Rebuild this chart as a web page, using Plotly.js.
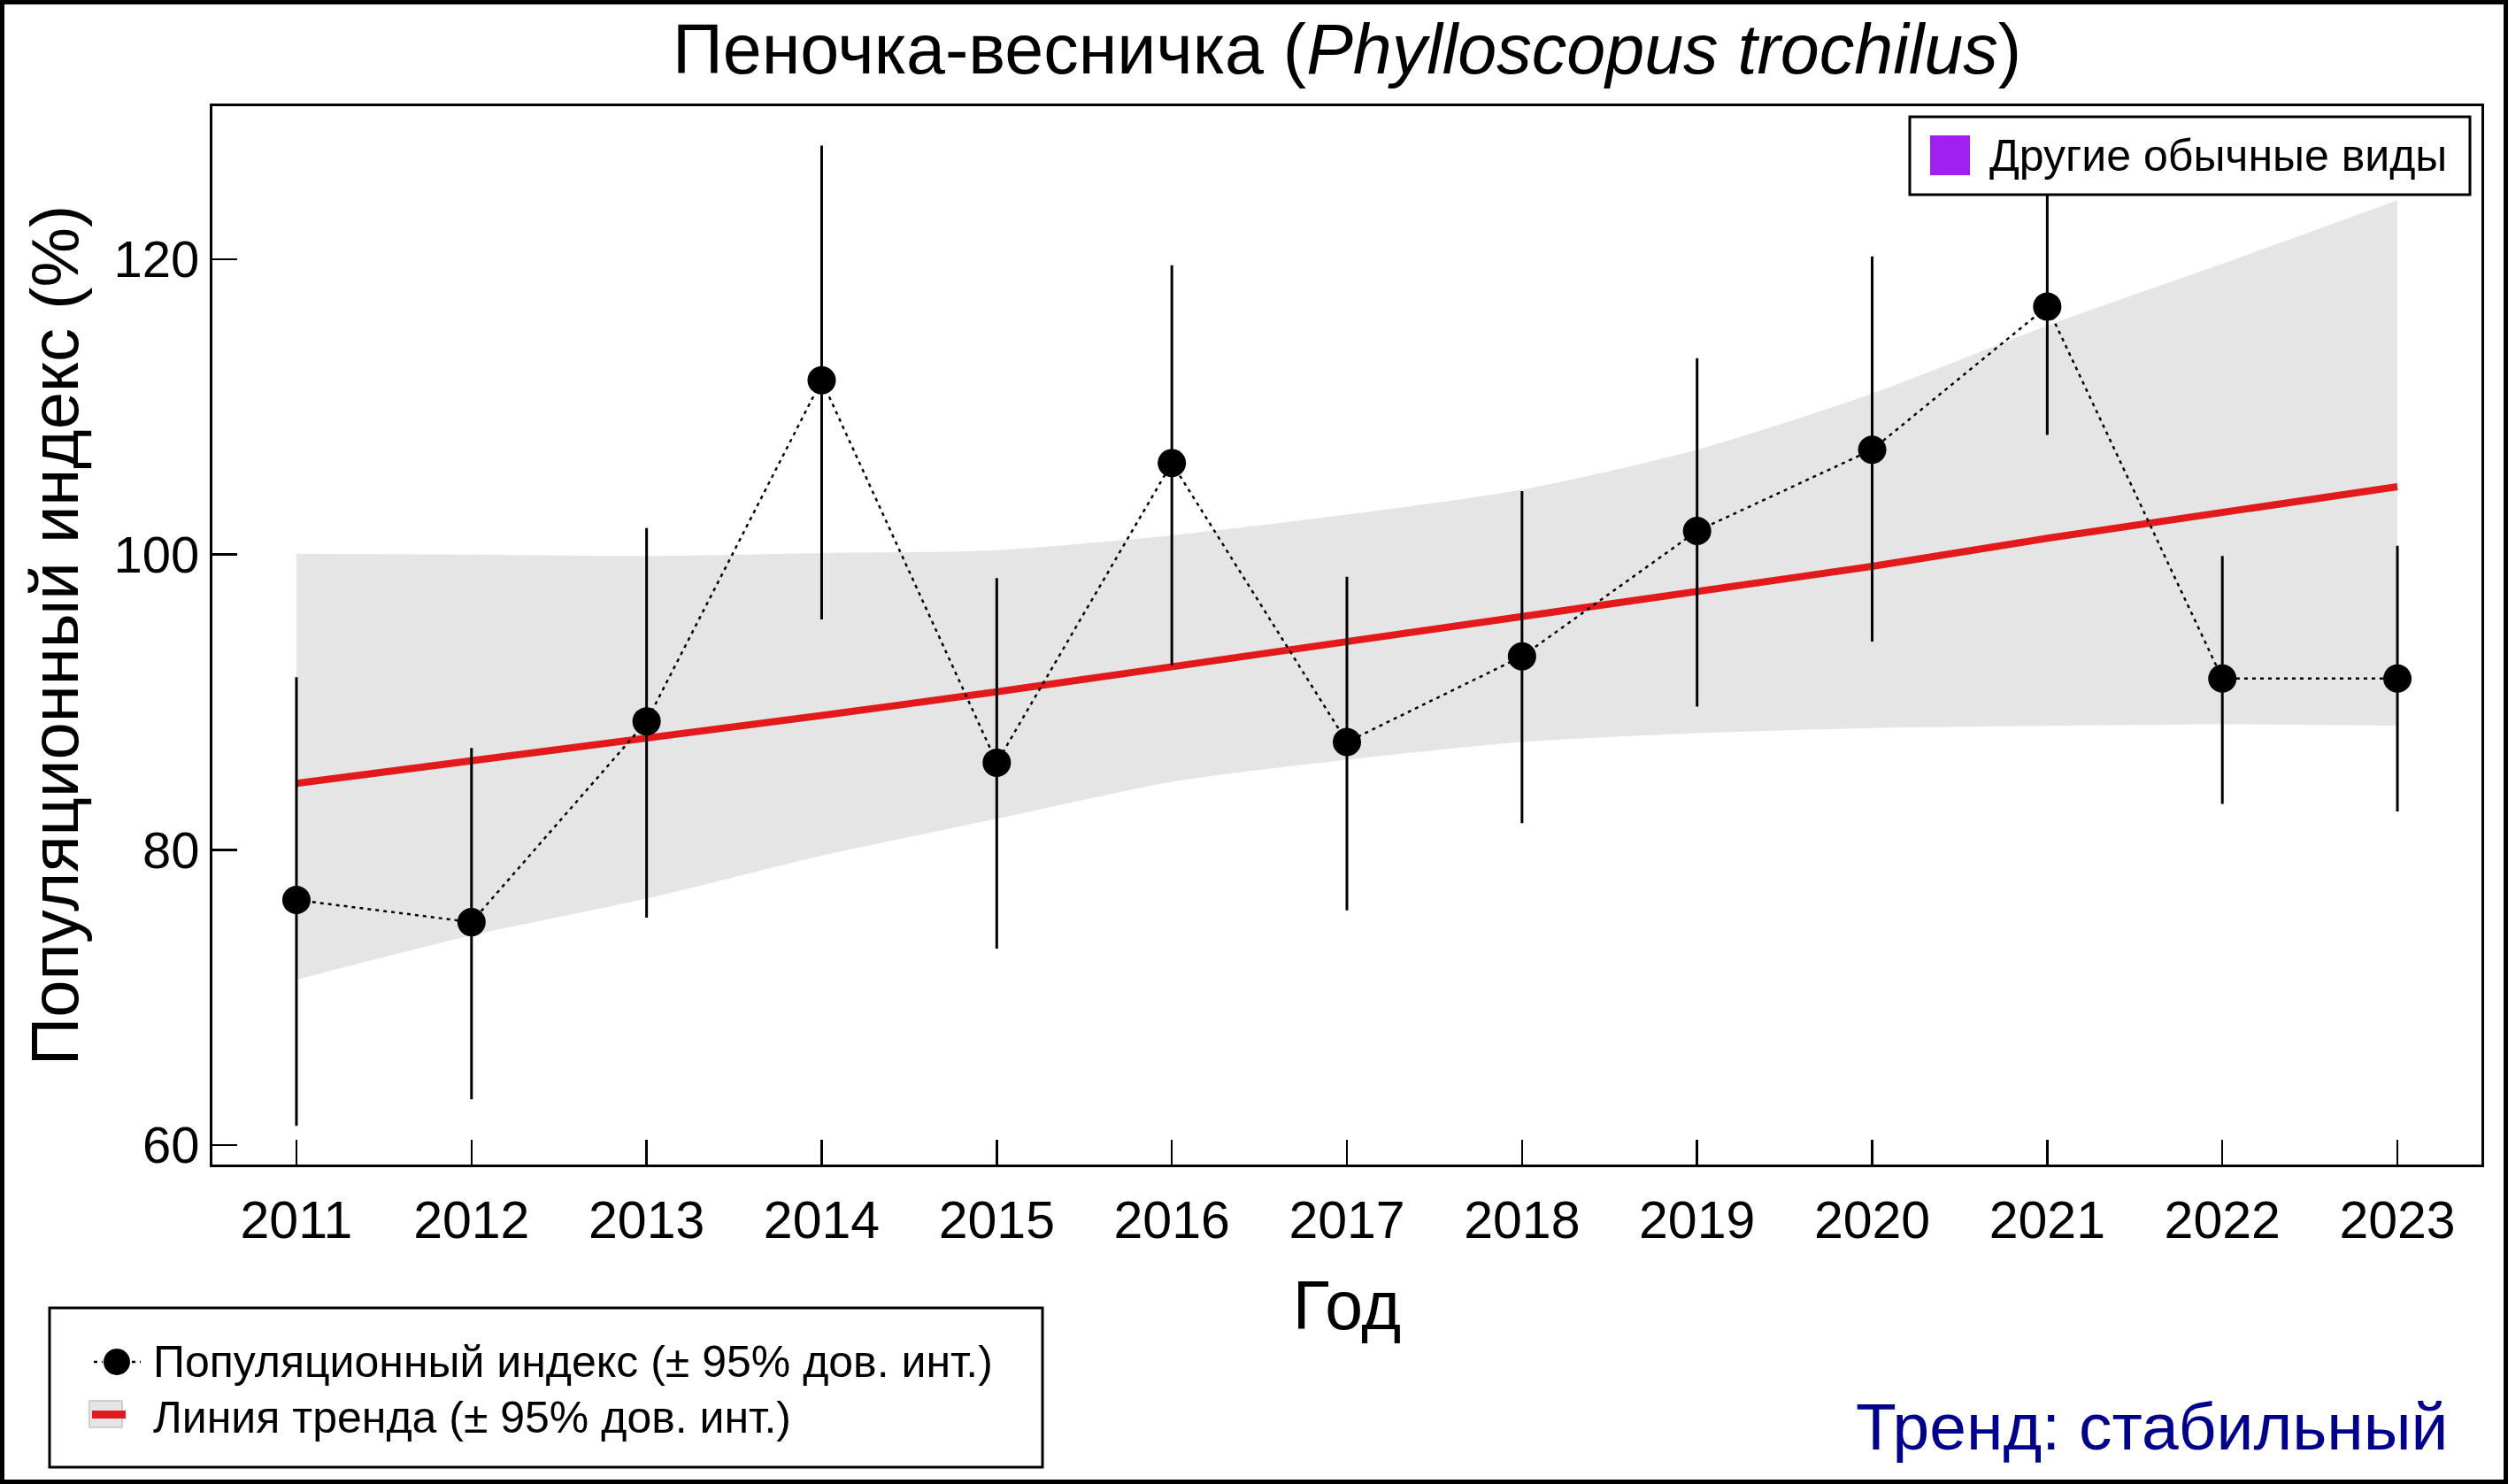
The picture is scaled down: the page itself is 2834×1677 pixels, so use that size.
<!DOCTYPE html>
<html>
<head>
<meta charset="utf-8">
<script src="https://cdn.plot.ly/plotly-3.0.1.min.js"></script>
<style>
  html, body { margin: 0; padding: 0; background: #ffffff; }
  #chart { width: 2834px; height: 1677px; }
</style>
</head>
<body>
<div id="chart"></div>
<script>
// ---------------- data ----------------
const years       = [2011, 2012, 2013, 2014, 2015, 2016, 2017, 2018, 2019, 2020, 2021, 2022, 2023];
const indexValues = [76.6, 75.1, 88.7, 111.8, 85.9, 106.2, 87.3, 93.1, 101.6, 107.1, 116.8, 91.6, 91.6];
const indexUpper  = [91.7, 86.9, 101.8, 127.7, 98.4, 119.6, 98.5, 104.3, 113.3, 120.2, 126.2, 99.9, 100.6];
const indexLower  = [61.3, 63.1, 75.4, 95.6, 73.3, 92.5, 75.9, 81.8, 89.7, 94.1, 108.1, 83.1, 82.6];
const trendValues = [84.5, 86.0, 87.6, 89.1, 90.7, 92.4, 94.0, 95.7, 97.5, 99.2, 101.1, 102.8, 104.6];
const trendUpper  = [100.05, 100.0, 99.9, 100.1, 100.3, 101.3, 102.7, 104.4, 107.1, 110.9, 115.5, 119.7, 124.0];
const trendLower  = [71.2, 74.2, 76.7, 79.6, 82.1, 84.6, 86.1, 87.3, 87.9, 88.25, 88.4, 88.5, 88.4];
const yTicks      = [60, 80, 100, 120];

const titleRu      = 'Пеночка-весничка';
const titleLatin   = 'Phylloscopus trochilus';
const xTitle       = 'Год';
const yTitle       = 'Популяционный индекс (%)';
const nameIndex    = 'Популяционный индекс (± 95% дов. инт.)';
const nameTrend    = 'Линия тренда (± 95% дов. инт.)';
const groupLabel   = 'Другие обычные виды';
const trendVerdict = 'Тренд: стабильный';

// ---------------- layout geometry (pixels) ----------------
const FIG_W = 2834, FIG_H = 1677;
const M = { l: 240, r: 30, t: 120, b: 361 };
const PW = FIG_W - M.l - M.r, PH = FIG_H - M.t - M.b;
const px = v => (v - M.l) / PW;          // pixel x -> paper x
const py = v => (M.t + PH - v) / PH;     // pixel y -> paper y

const FONT = 'Liberation Sans, Arial, Helvetica, sans-serif';
const RED = '#E31A1C';
const BAND = '#E5E5E5';

const errPlus  = indexUpper.map((u, i) => u - indexValues[i]);
const errMinus = indexValues.map((v, i) => v - indexLower[i]);

const traces = [
  { // lower edge of trend CI
    x: years, y: trendLower, type: 'scatter', mode: 'lines',
    line: { width: 0, color: BAND, shape: 'spline', smoothing: 0.7 },
    hoverinfo: 'skip', showlegend: false
  },
  { // upper edge of trend CI, filled down to the lower edge
    x: years, y: trendUpper, type: 'scatter', mode: 'lines',
    line: { width: 0, color: BAND, shape: 'spline', smoothing: 0.7 },
    fill: 'tonexty', fillcolor: BAND,
    hoverinfo: 'skip', showlegend: false
  },
  { // trend line
    x: years, y: trendValues, type: 'scatter', mode: 'lines',
    name: nameTrend, showlegend: false,
    line: { color: RED, width: 8 }
  },
  { // population index with 95% CI
    x: years, y: indexValues, type: 'scatter', mode: 'lines+markers',
    name: nameIndex, showlegend: false,
    line: { color: 'black', width: 2.5, dash: '4px,5px' },
    marker: { color: 'black', size: 32 },
    error_y: {
      type: 'data', symmetric: false, array: errPlus, arrayminus: errMinus,
      color: 'black', thickness: 3, width: 0
    }
  }
];

const paperRect = (x0, y0, x1, y1, extra) => Object.assign({
  type: 'rect', xref: 'paper', yref: 'paper',
  x0: px(x0), x1: px(x1), y0: py(y1), y1: py(y0)
}, extra);
const paperLine = (x0, y0, x1, y1, extra) => Object.assign({
  type: 'line', xref: 'paper', yref: 'paper',
  x0: px(x0), x1: px(x1), y0: py(y0), y1: py(y1)
}, extra);

const layout = {
  width: FIG_W, height: FIG_H,
  margin: M,
  paper_bgcolor: 'white', plot_bgcolor: 'white',
  font: { family: FONT, color: 'black' },
  showlegend: false,
  title: {
    text: titleRu + ' (<i>' + titleLatin + '</i>)',
    font: { size: 79, family: FONT, color: 'black' },
    x: 0.5, xref: 'paper', xanchor: 'center',
    y: 1 - 55 / FIG_H, yref: 'container', yanchor: 'middle'
  },
  xaxis: {
    range: [2010.52, 2023.48], tickmode: 'array', tickvals: years,
    ticktext: years.map(String),
    ticks: 'inside', ticklen: 28, tickwidth: 2.5, tickcolor: 'black',
    showline: true, linewidth: 3, linecolor: 'black', mirror: true,
    showgrid: false, zeroline: false,
    tickfont: { size: 59, family: FONT, color: 'black' },
    ticklabelstandoff: 9,
    title: { text: xTitle, font: { size: 77, family: FONT, color: 'black' }, standoff: 38 },
    fixedrange: true
  },
  yaxis: {
    range: [58.68, 130.37], tickmode: 'array', tickvals: yTicks,
    ticktext: yTicks.map(String),
    ticks: 'inside', ticklen: 28, tickwidth: 2.5, tickcolor: 'black',
    showline: true, linewidth: 3, linecolor: 'black', mirror: true,
    showgrid: false, zeroline: false,
    tickfont: { size: 58, family: FONT, color: 'black' },
    title: { text: yTitle, font: { size: 76, family: FONT, color: 'black' }, standoff: 16 },
    fixedrange: true
  },
  shapes: [
    // outer frame of the figure
    paperRect(2.5, 2.5, FIG_W - 2.5, FIG_H - 2.5,
      { line: { color: 'black', width: 5 }, fillcolor: 'rgba(0,0,0,0)', layer: 'above' }),
    // bottom-left legend box
    paperRect(56, 1478, 1178, 1658,
      { line: { color: 'black', width: 3 }, fillcolor: 'white', layer: 'above' }),
    // legend symbol: population index (dotted line stubs + filled circle)
    paperLine(106, 1539, 116, 1539,
      { line: { color: 'black', width: 2.5, dash: '4px,5px' }, layer: 'above' }),
    paperLine(149, 1539, 159, 1539,
      { line: { color: 'black', width: 2.5, dash: '4px,5px' }, layer: 'above' }),
    { type: 'circle', xref: 'paper', yref: 'paper',
      x0: px(117), x1: px(147), y0: py(1554), y1: py(1524),
      line: { color: 'black', width: 0 }, fillcolor: 'black', layer: 'above' },
    // legend symbol: trend (grey CI box + red line)
    paperRect(101, 1583, 138, 1613,
      { line: { color: '#C4C4C4', width: 1.5 }, fillcolor: BAND, layer: 'above' }),
    paperLine(104, 1598.5, 142, 1598.5,
      { line: { color: RED, width: 9 }, layer: 'above' }),
    // top-right group box
    paperRect(2158, 132, 2791, 220,
      { line: { color: 'black', width: 3 }, fillcolor: 'white', layer: 'above' }),
    // purple group swatch
    paperRect(2181, 153, 2226, 198,
      { line: { width: 0 }, fillcolor: '#A020F0', layer: 'above' })
  ],
  annotations: [
    { text: nameIndex, xref: 'paper', yref: 'paper', x: px(171), y: py(1539),
      xanchor: 'left', yanchor: 'middle', showarrow: false,
      font: { size: 50, family: FONT, color: 'black' } },
    { text: nameTrend, xref: 'paper', yref: 'paper', x: px(171), y: py(1602),
      xanchor: 'left', yanchor: 'middle', showarrow: false,
      font: { size: 50, family: FONT, color: 'black' } },
    { text: groupLabel, xref: 'paper', yref: 'paper', x: px(2246), y: py(176),
      xanchor: 'left', yanchor: 'middle', showarrow: false,
      font: { size: 50, family: FONT, color: 'black' } },
    { text: trendVerdict, xref: 'paper', yref: 'paper', x: px(2769), y: py(1612),
      xanchor: 'right', yanchor: 'middle', showarrow: false,
      font: { size: 75, family: FONT, color: '#00008B' } }
  ]
};

Plotly.newPlot('chart', traces, layout, { displayModeBar: false, staticPlot: true });
</script>
</body>
</html>
